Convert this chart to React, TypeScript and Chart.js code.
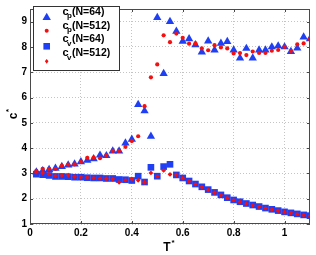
import React, { useEffect, useRef } from "react";
import { Chart, registerables } from "chart.js";

Chart.register(...registerables);

const temps = [0.025, 0.05, 0.075, 0.1, 0.125, 0.15, 0.175, 0.2, 0.225, 0.25, 0.275, 0.3, 0.325, 0.35, 0.375, 0.4, 0.425, 0.45, 0.475, 0.5, 0.525, 0.55, 0.575, 0.6, 0.625, 0.65, 0.675, 0.7, 0.725, 0.75, 0.775, 0.8, 0.825, 0.85, 0.875, 0.9, 0.925, 0.95, 0.975, 1.0, 1.025, 1.05, 1.075, 1.1];

const cpN64 = [3.05, 3.10, 3.15, 3.20, 3.27, 3.33, 3.37, 3.46, 3.52, 3.58, 3.72, 3.70, 3.88, 3.88, 4.20, 4.35, 5.72, 5.47, 4.47, 9.16, 6.95, 9.00, 8.62, 8.22, 8.32, 8.08, 7.80, 8.23, 7.88, 8.14, 8.21, 7.88, 7.56, 7.94, 7.56, 7.88, 7.88, 8.00, 8.04, 8.00, 7.82, 7.95, 8.39, 8.32];

const cpN512 = [3.10, 3.18, 3.18, 3.18, 3.30, 3.35, 3.36, 3.46, 3.62, 3.63, 3.60, 3.71, 3.89, 3.89, 4.05, 4.28, 4.47, 5.66, 6.80, 7.31, 8.46, 8.19, 8.53, 8.36, 8.13, 8.14, 7.94, 7.87, 8.07, 7.98, 7.94, 7.74, 7.76, 7.68, 7.82, 7.76, 7.76, 7.85, 7.88, 8.00, 7.84, 8.10, 8.14, 8.30];

const cvN64 = [2.97, 2.95, 2.92, 2.88, 2.88, 2.87, 2.85, 2.85, 2.83, 2.82, 2.82, 2.80, 2.80, 2.76, 2.75, 2.72, 2.89, 2.66, 3.24, 2.89, 3.27, 3.36, 2.94, 2.82, 2.70, 2.58, 2.47, 2.36, 2.25, 2.15, 2.04, 1.95, 1.88, 1.81, 1.75, 1.69, 1.63, 1.58, 1.53, 1.48, 1.44, 1.40, 1.36, 1.33];

const cvN512 = [3.05, 3.02, 2.97, 2.90, 2.92, 2.93, 2.87, 2.85, 2.84, 2.82, 2.80, 2.79, 2.78, 2.65, 2.73, 2.78, 2.73, 2.65, 3.02, 2.88, 3.12, 2.96, 2.94, 2.81, 2.69, 2.57, 2.46, 2.35, 2.24, 2.14, 2.03, 1.94, 1.87, 1.80, 1.74, 1.68, 1.62, 1.57, 1.52, 1.47, 1.43, 1.39, 1.35, 1.32];

const xTicks = [0, 0.2, 0.4, 0.6, 0.8, 1];
const yTicks = [1, 2, 3, 4, 5, 6, 7, 8, 9];

const legendEntries = [
  { base: "c", sub: "p", rest: "(N=64)" },
  { base: "c", sub: "p", rest: "(N=512)" },
  { base: "c", sub: "v", rest: "(N=64)" },
  { base: "c", sub: "v", rest: "(N=512)" },
];

const BLUE = "#1f3ff5";
const RED = "#f21010";
const FONT = "'Liberation Sans', Arial, sans-serif";

function drawMarker(ctx: CanvasRenderingContext2D, kind: string, x: number, y: number) {
  ctx.save();
  ctx.beginPath();
  if (kind === "tri") {
    ctx.fillStyle = BLUE;
    ctx.moveTo(x, y - 4.5);
    ctx.lineTo(x + 4.2, y + 2.8);
    ctx.lineTo(x - 4.2, y + 2.8);
    ctx.closePath();
  } else if (kind === "sq") {
    ctx.fillStyle = BLUE;
    ctx.rect(x - 3.3, y - 3.3, 6.6, 6.6);
  } else if (kind === "dot") {
    ctx.fillStyle = RED;
    ctx.arc(x, y, 2, 0, Math.PI * 2);
  } else {
    ctx.fillStyle = RED;
    ctx.moveTo(x, y - 2.4);
    ctx.lineTo(x + 1.8, y);
    ctx.lineTo(x, y + 2.4);
    ctx.lineTo(x - 1.8, y);
    ctx.closePath();
  }
  ctx.fill();
  ctx.restore();
}

const decorPlugin = {
  id: "decor",
  afterDatasetsDraw(chart: any) {
    const ctx: CanvasRenderingContext2D = chart.ctx;
    const { left, right, top, bottom } = chart.chartArea;
    const xs = chart.scales.x;
    const ys = chart.scales.y;
    ctx.save();
    // box
    ctx.strokeStyle = "#4a4a4a";
    ctx.lineWidth = 1;
    ctx.strokeRect(Math.round(left) + 0.5, Math.round(top) + 0.5, Math.round(right - left) - 1, Math.round(bottom - top) - 1);
    // inward ticks
    ctx.beginPath();
    xTicks.forEach((v) => {
      const px = Math.round(xs.getPixelForValue(v)) + 0.5;
      ctx.moveTo(px, bottom);
      ctx.lineTo(px, bottom - 3);
      ctx.moveTo(px, top);
      ctx.lineTo(px, top + 3);
    });
    yTicks.forEach((v) => {
      const py = Math.round(ys.getPixelForValue(v)) + 0.5;
      ctx.moveTo(left, py);
      ctx.lineTo(left + 3, py);
      ctx.moveTo(right, py);
      ctx.lineTo(right - 3, py);
    });
    ctx.stroke();

    // legend
    const lx = 33, ly = 6, lw = 86, lh = 64;
    ctx.fillStyle = "#fff";
    ctx.fillRect(lx, ly, lw, lh);
    ctx.strokeStyle = "#333";
    ctx.strokeRect(lx + 0.5, ly + 0.5, lw, lh);
    const markerY = [17.3, 30.7, 46.3, 61.3];
    const textY = [14.5, 28.5, 42.3, 56];
    const kinds = ["tri", "dot", "sq", "dia"];
    legendEntries.forEach((e, i) => {
      drawMarker(ctx, kinds[i], 46.7, markerY[i]);
      ctx.fillStyle = "#000";
      ctx.textBaseline = "alphabetic";
      ctx.textAlign = "left";
      ctx.font = `bold 11px ${FONT}`;
      ctx.fillText(e.base, 62.5, textY[i]);
      ctx.font = `bold 8px ${FONT}`;
      ctx.fillText(e.sub, 67, textY[i] + 3.5);
      ctx.font = `bold 10.5px ${FONT}`;
      ctx.fillText(e.rest, 72, textY[i]);
    });

    // axis titles
    ctx.fillStyle = "#000";
    ctx.font = `bold 12px ${FONT}`;
    ctx.textAlign = "center";
    ctx.textBaseline = "alphabetic";
    ctx.fillText("T", 167, 251);
    ctx.font = `bold 8px ${FONT}`;
    ctx.fillText("*", 173, 245);

    ctx.save();
    ctx.translate(17, 116);
    ctx.rotate(-Math.PI / 2);
    ctx.font = `bold 12px ${FONT}`;
    ctx.textAlign = "center";
    ctx.fillText("c", 0, 0);
    ctx.font = `bold 8px ${FONT}`;
    ctx.fillText("*", 5.5, -6);
    ctx.restore();

    ctx.restore();
  },
};

function toPoints(vals: number[]) {
  return temps.map((t, i) => ({ x: t, y: vals[i] }));
}

export default function App() {
  const ref = useRef<HTMLCanvasElement | null>(null);
  useEffect(() => {
    if (!ref.current) return;
    const chart = new Chart(ref.current, {
      type: "scatter",
      data: {
        datasets: [
          { label: "cp (N=64)", data: toPoints(cpN64), pointStyle: "triangle", pointRadius: 4.8, backgroundColor: BLUE, borderColor: BLUE, borderWidth: 0, order: 4 },
          { label: "cp (N=512)", data: toPoints(cpN512), pointStyle: "circle", pointRadius: 2.1, backgroundColor: RED, borderColor: RED, borderWidth: 0, order: 3 },
          { label: "cv (N=64)", data: toPoints(cvN64), pointStyle: "rect", pointRadius: 4.7, backgroundColor: BLUE, borderColor: BLUE, borderWidth: 0, order: 2 },
          { label: "cv (N=512)", data: toPoints(cvN512), pointStyle: "rectRot", pointRadius: 2.4, backgroundColor: RED, borderColor: RED, borderWidth: 0, order: 1 },
        ],
      },
      options: {
        animation: false,
        responsive: false,
        layout: { padding: { top: 4, right: 6, left: 0, bottom: 0 } },
        plugins: { legend: { display: false }, tooltip: { enabled: false } },
        scales: {
          x: {
            type: "linear",
            min: 0,
            max: 1.1,
            afterBuildTicks: (s: any) => { s.ticks = xTicks.map((v) => ({ value: v })); },
            afterFit: (s: any) => { s.height = 31; },
            ticks: {
              callback: (v: any) => String(Math.round(Number(v) * 10) / 10),
              font: { family: FONT, size: 10, weight: "bold" },
              color: "#000",
              padding: 3,
              maxRotation: 0,
            },
            grid: { color: "#c4c4c4", lineWidth: 1, drawTicks: false },
            border: { display: false, dash: [1, 2] },
          },
          y: {
            type: "linear",
            min: 1,
            max: 9.5,
            afterBuildTicks: (s: any) => { s.ticks = yTicks.map((v) => ({ value: v })); },
            afterFit: (s: any) => { s.width = 30; },
            ticks: {
              callback: (v: any) => String(v),
              font: { family: FONT, size: 10, weight: "bold" },
              color: "#000",
              padding: 3,
            },
            grid: { color: "#c4c4c4", lineWidth: 1, drawTicks: false },
            border: { display: false, dash: [1, 2] },
          },
        },
      },
      plugins: [decorPlugin],
    } as any);
    return () => chart.destroy();
  }, []);
  return (
    <div style={{ position: "absolute", left: 0, top: 0, width: 316, height: 255, background: "#fff" }}>
      <canvas ref={ref} width={316} height={255} style={{ display: "block" }} />
    </div>
  );
}
